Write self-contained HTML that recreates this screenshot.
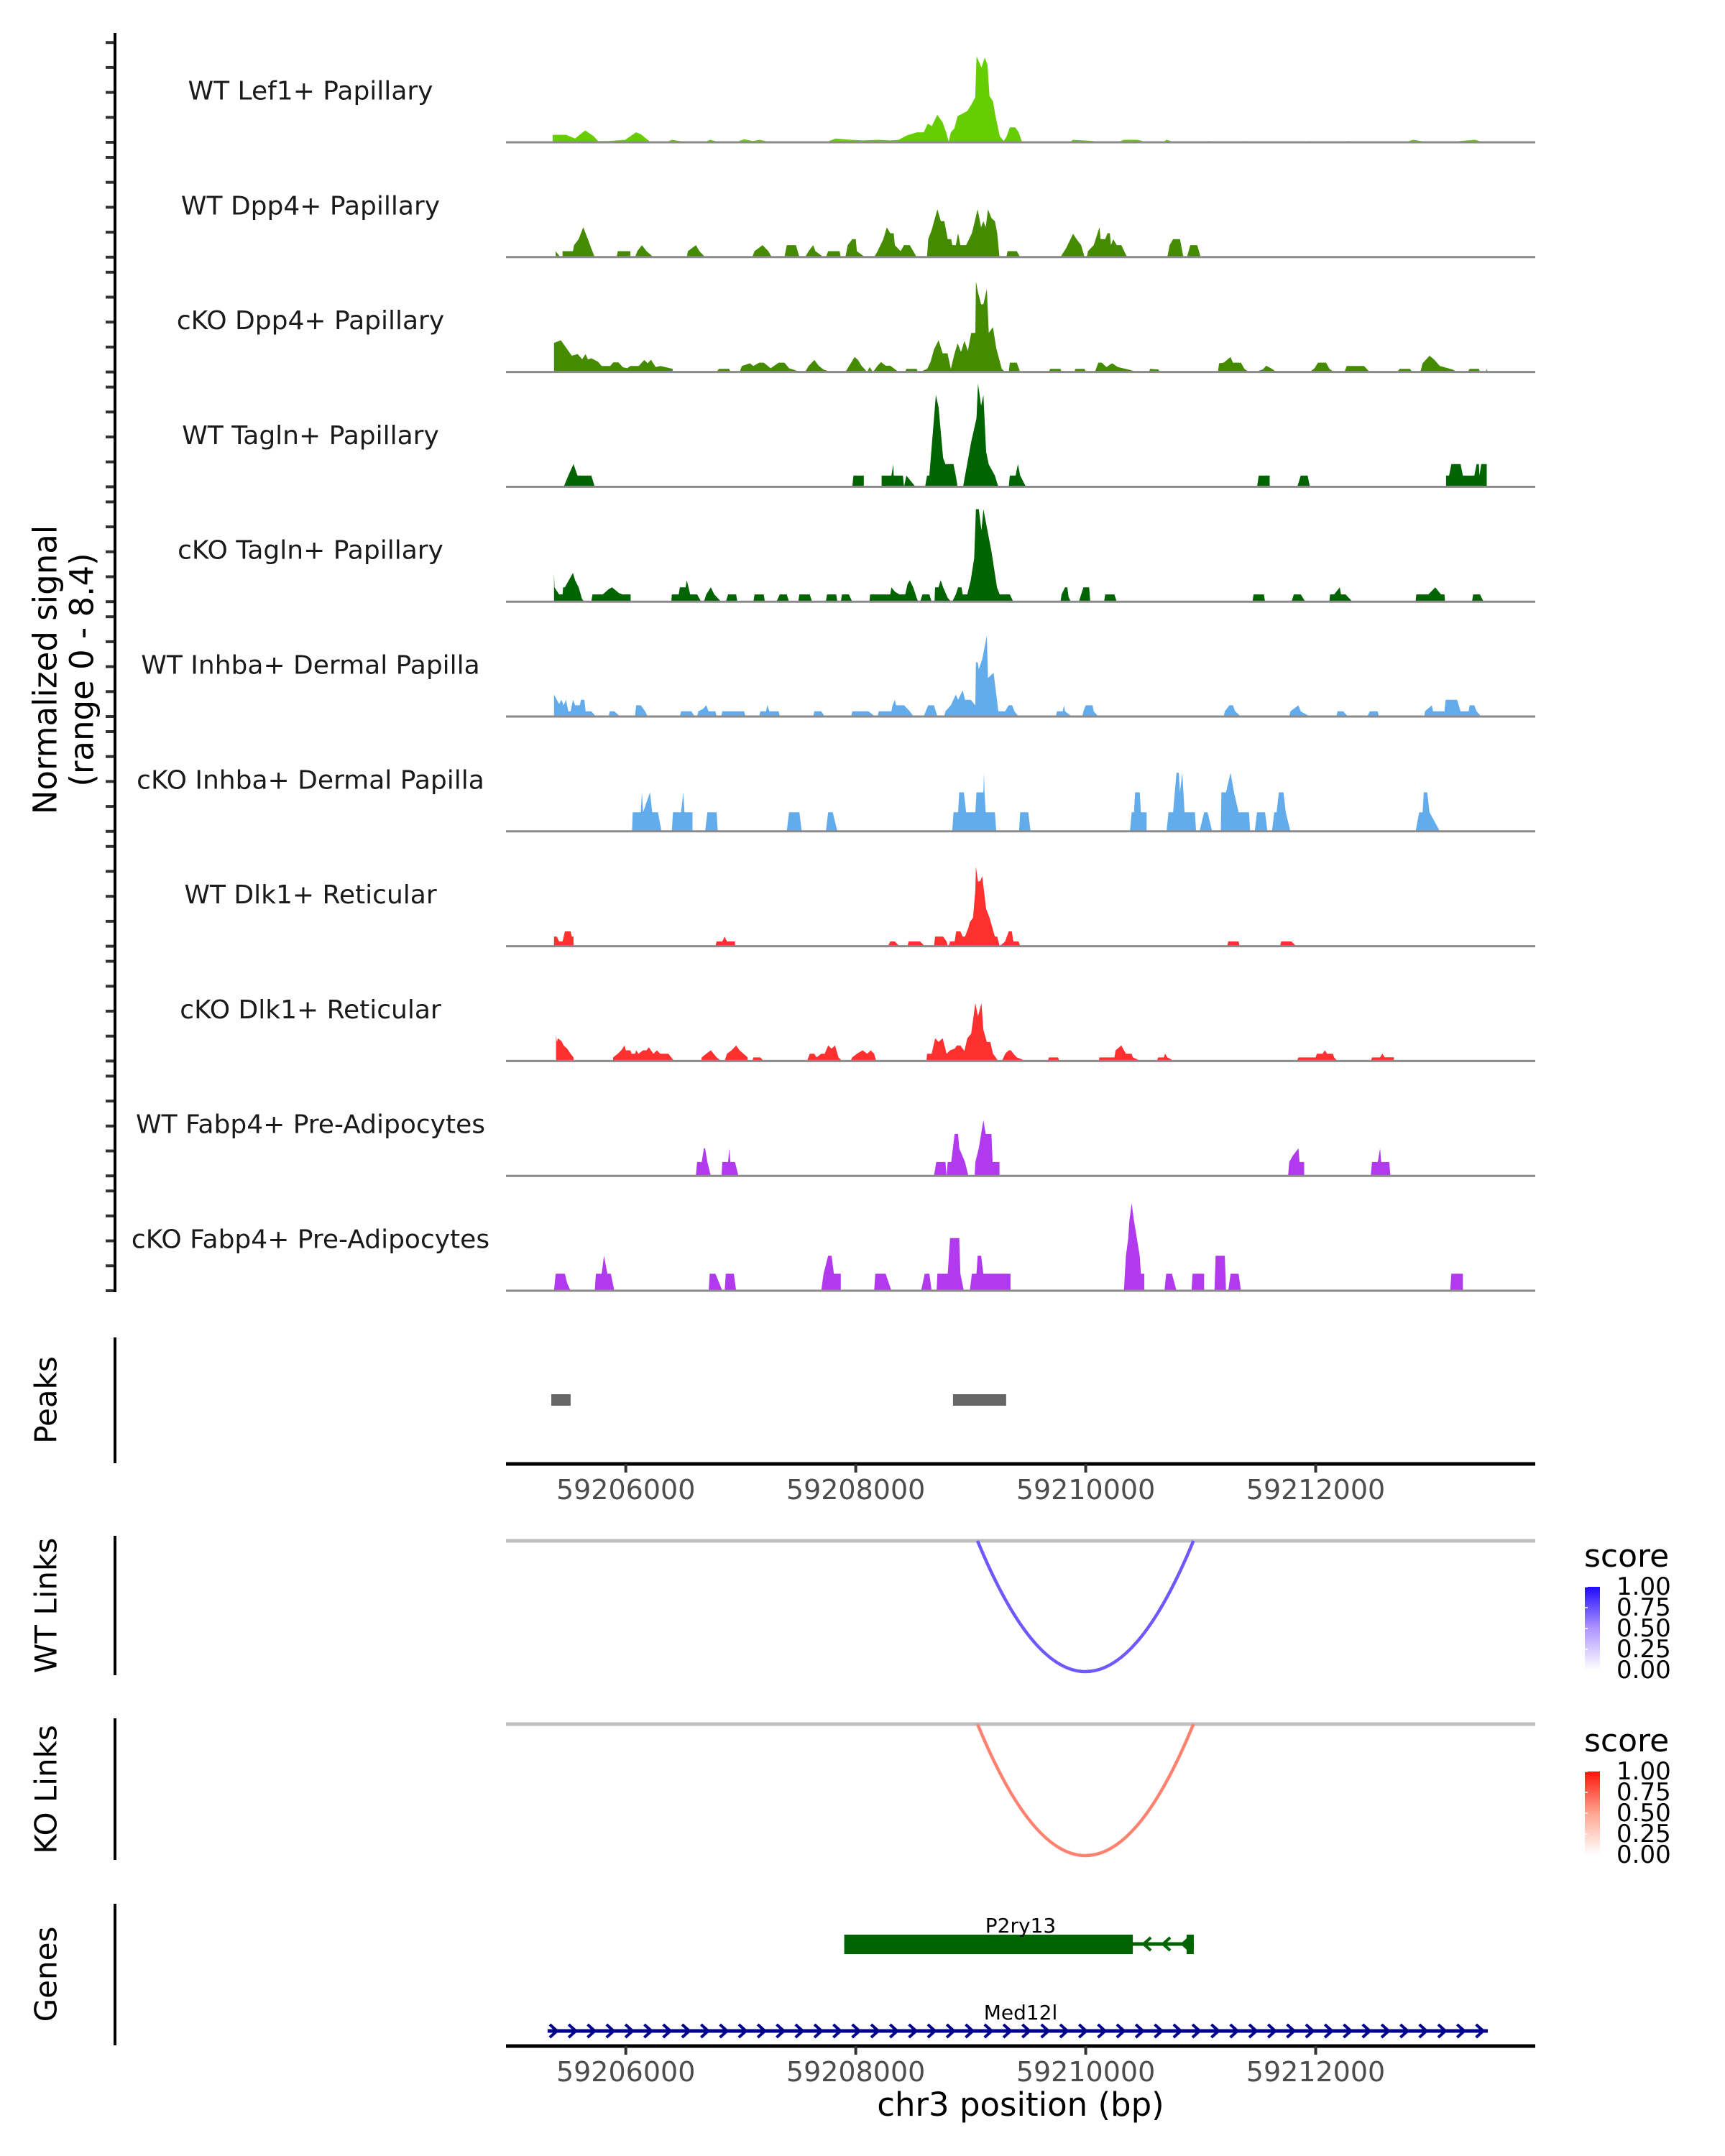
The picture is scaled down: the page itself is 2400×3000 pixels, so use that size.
<!DOCTYPE html>
<html><head><meta charset="utf-8">
<style>
html,body{margin:0;padding:0;background:#fff;}
svg{display:block;font-family:"DejaVu Sans","Liberation Sans",sans-serif;}
</style></head>
<body>
<svg id="chart" width="2400" height="3000" viewBox="0 0 2400 3000" xmlns="http://www.w3.org/2000/svg">
  <rect x="0" y="0" width="2400" height="3000" fill="#fff"/>
  <g id="tracks"></g>
  <g id="axes"></g>
  <g id="lower"></g>
</svg>
<script>
// ---- data (positions are bp offsets from 59205000, values are normalized signal) ----
const regionStart = 59205000;
const trackNames = ["WT Lef1+ Papillary","WT Dpp4+ Papillary","cKO Dpp4+ Papillary","WT Tagln+ Papillary","cKO Tagln+ Papillary","WT Inhba+ Dermal Papilla","cKO Inhba+ Dermal Papilla","WT Dlk1+ Reticular","cKO Dlk1+ Reticular","WT Fabp4+ Pre-Adipocytes","cKO Fabp4+ Pre-Adipocytes"];
const trackColors = ["#66cd00","#458b00","#458b00","#006400","#006400","#63acec","#63acec","#ff3030","#ff3030","#b23aee","#b23aee"];
const yTickValues = [0,2,4,6,8];
const xTickValues = [59206000,59208000,59210000,59212000];

const sigLef1WT = [[364,0],[364,0.6],[482,0.6],[558,0.3],[647,0.95],[718,0.5],[759,0.1],[848,0.1],[995,0.2],[1089,0.8],[1131,0.65],[1190,0.2],[1219,0],[1349,0],[1400,0.2],[1538,0],[1685,0],[1733,0.2],[1821,0],[1957,0],[2028,0.25],[2104,0.1],[2163,0.2],[2264,0],[2741,0],[2824,0.3],[2954,0.2],[3060,0.15],[3196,0.2],[3308,0.15],[3373,0.2],[3444,0.55],[3532,0.8],[3591,0.8],[3626,1.5],[3662,1.3],[3709,2.2],[3756,1.6],[3786,0.8],[3809,0.05],[3827,0.8],[3857,1.1],[3886,2.1],[3969,2.5],[4004,3.0],[4039,3.6],[4051,6.9],[4093,6.0],[4122,6.8],[4146,6.2],[4163,3.7],[4193,3.3],[4216,2.1],[4252,0.5],[4287,0.1],[4311,0.45],[4340,1.2],[4388,1.2],[4417,0.8],[4447,0],[4470,0.1],[4565,0],[4860,0],[4890,0.2],[5066,0.1],[5155,0],[5273,0],[5332,0.2],[5450,0.2],[5538,0],[5668,0],[5703,0.2],[5774,0],[6040,0],[6060,0.1],[6234,0],[6352,0],[6370,0.1],[6470,0],[6936,0],[6950,0.1],[7031,0],[7261,0],[7280,0.1],[7473,0],[7780,0],[7845,0.2],[7987,0],[8223,0],[8250,0.1],[8388,0.2],[8459,0]];
const sigDpp4WT = [[390,0],[390,0.48],[430,0],[450,0],[450,0.48],[540,0.48],[550,0.96],[590,1.44],[630,2.4],[670,1.44],[700,0.7],[730,0],[920,0],[930,0.48],[1040,0.48],[1040,0],[1080,0],[1100,0.48],[1140,0.96],[1180,0.48],[1240,0],[1530,0],[1540,0.48],[1610,0.96],[1640,0.48],[1690,0],[2100,0],[2120,0.48],[2190,0.96],[2240,0.48],[2270,0],[2380,0],[2400,0.96],[2480,0.96],[2510,0],[2560,0],[2590,0.48],[2630,0.96],[2650,0.48],[2720,0],[2740,0],[2760,0.48],[2860,0.48],[2870,0],[2910,0],[2930,0.96],[2970,1.44],[3000,1.44],[3010,0.48],[3080,0],[3160,0],[3190,0.48],[3240,1.44],[3270,2.4],[3300,1.92],[3330,1.92],[3340,0.96],[3390,0.48],[3420,0.96],[3470,0.96],[3500,0.48],[3530,0],[3620,0],[3630,1.44],[3660,2.17],[3710,3.84],[3740,2.88],[3770,2.88],[3800,1.44],[3830,1.44],[3840,0.96],[3870,0.96],[3890,1.92],[3910,0.96],[3960,0.96],[4010,1.92],[4060,3.84],[4090,2.4],[4110,2.88],[4130,2.4],[4150,3.84],[4180,3.13],[4210,2.88],[4230,1.92],[4250,0],[4310,0],[4320,0.48],[4400,0.48],[4430,0],[4780,0],[4830,0.73],[4890,1.88],[4920,1.44],[4960,0.96],[4990,0],[5010,0],[5020,0.48],[5070,0.96],[5120,2.4],[5130,1.44],[5170,1.44],[5190,1.92],[5210,1.92],[5220,0.96],[5240,1.44],[5270,0.96],[5310,0.96],[5360,0],[5710,0],[5730,0.96],[5760,1.44],[5820,1.44],[5850,0],[5880,0],[5910,0.96],[5970,0.96],[6000,0]];
const sigDpp4KO = [[376,0],[376,2.32],[435,2.55],[494,1.78],[530,1.3],[582,1.44],[620,1.02],[650,1.44],[671,1.0],[700,1.1],[759,0.82],[790,0.48],[865,0.48],[890,0.77],[936,0.77],[975,0.38],[1013,0.3],[1040,0.48],[1113,0.48],[1160,0.96],[1190,0.7],[1219,0.98],[1260,0.4],[1302,0.48],[1408,0.25],[1408,0],[1790,0],[1810,0.25],[1900,0.25],[1910,0],[1990,0],[2010,0.48],[2080,0.7],[2110,0.48],[2160,0.75],[2200,0.75],[2260,0.3],[2330,0.75],[2380,0.75],[2420,0.3],[2520,0],[2560,0],[2590,0.48],[2640,0.96],[2680,0.48],[2720,0.2],[2780,0],[2910,0],[2950,0.6],[2990,1.2],[3020,0.96],[3050,0.5],[3100,0],[3120,0.4],[3150,0],[3190,0.5],[3220,0.8],[3260,0.5],[3300,0.5],[3373,0],[3430,0],[3440,0.25],[3530,0.25],[3540,0],[3556,0],[3621,0.25],[3650,0.8],[3680,1.8],[3721,2.55],[3756,1.5],[3798,1.5],[3827,0.25],[3857,1.4],[3886,2.3],[3916,1.6],[3945,2.5],[3975,1.7],[4004,3.13],[4040,3.13],[4045,7.25],[4063,6.4],[4090,5.43],[4110,5.43],[4140,6.67],[4157,3.13],[4193,3.6],[4222,1.9],[4270,0.25],[4299,0],[4330,0],[4340,0.75],[4400,0.75],[4430,0],[4680,0],[4690,0.25],[4780,0.25],[4790,0],[4900,0],[4910,0.25],[4990,0.25],[5000,0],[5080,0],[5110,0.75],[5140,0.75],[5180,0.4],[5230,0.7],[5280,0.4],[5370,0.2],[5450,0],[5550,0],[5560,0.25],[5630,0.2],[5650,0],[6150,0],[6160,0.7],[6200,0.75],[6260,1.2],[6280,0.75],[6350,0.75],[6380,0.25],[6420,0],[6470,0],[6540,0.2],[6570,0.5],[6620,0.25],[6660,0],[6950,0],[6990,0.3],[7020,0.75],[7090,0.75],[7120,0.25],[7160,0],[7250,0],[7270,0.48],[7420,0.48],[7470,0],[7710,0],[7730,0.25],[7820,0.25],[7840,0],[7910,0],[7930,0.7],[7990,1.3],[8030,1.0],[8080,0.48],[8190,0.2],[8230,0],[8320,0],[8340,0.25],[8420,0.25],[8430,0],[8480,0],[8490,0.25],[8495,0]];
const sigTaglnWT = [[460,0],[500,0.9],[545,1.82],[580,0.9],[700,0.9],[730,0],[2970,0],[2980,0.9],[3070,0.9],[3070,0],[3225,0],[3225,0.9],[3310,0.9],[3326,1.8],[3330,0.9],[3410,0.9],[3420,0],[3440,0.9],[3520,0],[3603,0],[3620,0.9],[3640,0.9],[3697,7.37],[3720,6.4],[3760,2.3],[3780,1.82],[3850,1.82],[3870,0.9],[3886,0],[3933,0],[4004,3.6],[4050,5.5],[4063,8.29],[4090,6.5],[4110,7.37],[4134,2.8],[4157,1.8],[4210,0.9],[4240,0],[4330,0],[4340,0.9],[4390,0.9],[4410,1.82],[4430,0.9],[4480,0],[6490,0],[6505,0.9],[6600,0.9],[6600,0],[6840,0],[6870,0.9],[6930,0.9],[6950,0],[8134,0],[8134,0.9],[8160,0.9],[8180,1.82],[8260,1.82],[8280,0.9],[8380,0.9],[8400,1.82],[8420,1.82],[8425,0.9],[8440,1.82],[8488,1.82],[8488,0]];
const sigTaglnKO = [[376,0],[376,2.3],[380,1.15],[420,0.58],[450,0.58],[455,1.15],[470,1.15],[540,2.3],[560,1.7],[590,1.15],[620,0.2],[640,0],[700,0],[710,0.58],[800,0.58],[850,1.0],[880,1.15],[940,0.7],[970,0.58],[1042,0.58],[1042,0],[1396,0],[1400,0.58],[1460,0.58],[1470,1.15],[1520,1.15],[1530,1.73],[1560,0.58],[1620,0.58],[1656,0],[1680,0],[1700,0.58],[1740,1.15],[1770,0.58],[1830,0],[1870,0],[1890,0.58],[1960,0.58],[1970,0],[2110,0],[2120,0.58],[2200,0.58],[2210,0],[2310,0],[2340,0.58],[2400,0.58],[2420,0],[2500,0],[2510,0.58],[2600,0.58],[2620,0],[2740,0],[2750,0.58],[2830,0.58],[2840,0],[2870,0],[2880,0.58],[2940,0.58],[2970,0],[3119,0],[3125,0.58],[3300,0.58],[3310,1.15],[3340,0.8],[3380,0.58],[3430,0.58],[3450,1.4],[3470,1.73],[3500,1.15],[3530,0.3],[3544,0],[3560,0],[3580,0.58],[3640,0.58],[3660,0],[3685,0],[3690,1.15],[3720,1.15],[3738,1.73],[3760,1.15],[3800,0.3],[3830,0],[3839,0],[3870,0.58],[3890,1.15],[3920,1.15],[3930,0.58],[3970,0.58],[4000,1.73],[4030,3.5],[4045,7.42],[4070,7.42],[4093,5.7],[4110,7.42],[4181,4.0],[4228,1.15],[4252,0.58],[4340,0.58],[4370,0],[4780,0],[4790,0.58],[4820,1.15],[4840,1.15],[4850,0.4],[4870,0],[4940,0],[4960,0.58],[4980,1.15],[5030,1.15],[5040,0],[5160,0],[5170,0.58],[5250,0.58],[5270,0],[6450,0],[6460,0.58],[6550,0.58],[6560,0],[6790,0],[6810,0.58],[6870,0.58],[6910,0],[7119,0],[7125,0.58],[7160,0.58],[7210,1.15],[7220,0.58],[7260,0.58],[7320,0],[7869,0],[7875,0.58],[7980,0.58],[8040,1.15],[8090,0.58],[8120,0.58],[8125,0],[8360,0],[8370,0.58],[8430,0.58],[8460,0]];
const sigInhbaWT = [[376,0],[376,1.76],[420,1.0],[440,1.34],[460,0.9],[480,1.34],[500,0.42],[520,0.42],[540,1.34],[560,0.9],[600,0.9],[610,1.34],[640,1.34],[650,0.42],[700,0.42],[740,0],[850,0],[860,0.42],[900,0.42],[950,0],[1080,0],[1090,0.9],[1130,0.9],[1170,0.4],[1190,0],[1470,0],[1480,0.42],[1570,0.42],[1600,0],[1620,0],[1630,0.42],[1670,0.6],[1700,0.9],[1720,0.42],[1780,0.42],[1790,0],[1830,0],[1840,0.42],[2030,0.42],[2040,0],[2160,0],[2170,0.42],[2220,0.42],[2230,0.9],[2250,0.42],[2330,0.42],[2340,0],[2630,0],[2640,0.42],[2700,0.42],[2730,0],[2960,0],[2970,0.42],[3110,0.42],[3170,0],[3190,0],[3200,0.42],[3270,0.42],[3310,0.42],[3320,0.9],[3340,1.34],[3350,0.9],[3420,0.9],[3470,0.42],[3503,0],[3590,0],[3630,0.9],[3680,0.9],[3710,0],[3768,0],[3780,0.42],[3827,0.9],[3870,1.76],[3890,1.34],[3930,2.1],[3950,1.34],[4000,1.34],[4040,0.9],[4045,4.35],[4060,4.35],[4070,3.8],[4100,4.6],[4140,6.5],[4150,3.1],[4199,3.5],[4240,0.42],[4299,0.42],[4330,0.9],[4360,0.9],[4380,0.42],[4417,0],[4740,0],[4750,0.42],[4800,0.42],[4810,0.9],[4820,0.42],[4880,0],[4970,0],[4980,0.42],[5000,0.9],[5060,0.9],[5070,0.42],[5110,0],[6200,0],[6210,0.42],[6250,0.9],[6280,0.9],[6300,0.42],[6350,0],[6770,0],[6780,0.42],[6850,0.9],[6870,0.42],[6950,0],[7180,0],[7190,0.42],[7240,0.42],[7280,0],[7450,0],[7470,0.42],[7540,0.42],[7550,0],[7945,0],[7950,0.42],[8010,0.9],[8020,0.42],[8120,0.42],[8130,1.34],[8230,1.34],[8260,0.42],[8330,0.42],[8340,0.9],[8380,0.9],[8400,0.42],[8440,0]];
const sigInhbaKO = [[1054,0],[1060,1.53],[1130,1.53],[1140,3.13],[1150,1.53],[1210,3.13],[1230,1.53],[1280,1.53],[1310,0],[1400,0],[1410,1.53],[1480,1.53],[1500,3.13],[1510,1.53],[1580,1.53],[1580,0],[1690,0],[1710,1.53],[1790,1.53],[1800,0],[2400,0],[2420,1.53],[2510,1.53],[2530,0],[2740,0],[2760,1.53],[2800,1.53],[2840,0],[3839,0],[3850,1.53],[3890,1.53],[3900,3.13],[3940,3.13],[3960,1.53],[4040,1.53],[4050,3.13],[4110,3.13],[4115,4.7],[4120,3.13],[4130,1.53],[4210,1.53],[4222,0],[4420,0],[4430,1.53],[4500,1.53],[4520,0],[5385,0],[5400,1.53],[5420,1.53],[5430,3.13],[5470,3.13],[5480,1.53],[5530,1.53],[5530,0],[5703,0],[5720,1.53],[5760,1.53],[5790,4.7],[5810,4.7],[5820,3.13],[5840,4.7],[5860,1.53],[5950,1.53],[5960,0],[5990,0],[6030,1.53],[6060,1.53],[6100,0],[6175,0],[6180,3.13],[6220,3.13],[6260,4.7],[6290,3.13],[6330,1.53],[6420,1.53],[6430,0],[6470,0],[6490,1.53],[6560,1.53],[6580,0],[6620,0],[6640,1.53],[6660,1.53],[6680,3.13],[6720,3.13],[6740,1.53],[6780,0],[7869,0],[7900,1.53],[7930,1.53],[7940,3.13],[7970,3.13],[7990,1.53],[8080,0]];
const sigDlk1WT = [[376,0],[376,0.77],[400,0.77],[420,0.38],[450,0.38],[470,1.19],[520,1.19],[530,0.77],[545,0.77],[545,0],[1780,0],[1790,0.38],[1840,0.38],[1860,0.77],[1880,0.38],[1950,0.38],[1950,0],[3280,0],[3300,0.38],[3340,0.38],[3380,0],[3450,0],[3460,0.38],[3560,0.38],[3600,0],[3680,0],[3690,0.77],[3760,0.77],[3790,0.38],[3800,0],[3809,0],[3820,0.38],[3860,0.38],[3874,1.19],[3910,1.19],[3930,0.77],[3950,0.77],[3980,1.5],[3992,1.92],[4020,2.3],[4040,4.5],[4045,6.37],[4063,5.2],[4080,5.2],[4100,5.6],[4134,3.0],[4163,2.3],[4210,0.77],[4230,0.77],[4252,0],[4299,0.38],[4330,1.19],[4358,1.19],[4370,0.38],[4417,0.38],[4430,0],[6230,0],[6240,0.38],[6330,0.38],[6340,0],[6690,0],[6700,0.38],[6790,0.38],[6830,0]];
const sigDlk1KO = [[393,0],[393,2.1],[400,1.53],[410,1.82],[440,1.6],[460,1.25],[490,1.0],[520,0.58],[545,0.3],[545,0],[889,0],[890,0.29],[930,0.58],[960,0.86],[990,1.25],[1000,0.86],[1040,0.86],[1050,0.58],[1080,0.58],[1090,0.86],[1110,0.58],[1150,0.86],[1180,0.86],[1200,1.1],[1240,0.58],[1270,0.86],[1300,0.58],[1370,0.58],[1420,0],[1656,0],[1660,0.29],[1700,0.58],[1740,0.86],[1790,0.3],[1830,0],[1860,0],[1880,0.58],[1920,0.86],[1960,1.25],[1990,0.86],[2060,0.3],[2060,0],[2100,0],[2110,0.29],[2170,0.29],[2200,0],[2576,0],[2600,0.58],[2640,0.58],[2660,0.3],[2700,0.58],[2730,0.58],[2760,1.25],[2790,1.0],[2820,1.25],[2850,0.29],[2883,0],[2954,0],[2970,0.3],[3010,0.58],[3060,0.86],[3100,0.58],[3130,0.86],[3160,0.58],[3178,0],[3615,0],[3620,0.58],[3660,0.58],[3691,1.82],[3720,1.53],[3756,1.82],[3790,0.58],[3820,0.86],[3860,1.0],[3880,1.25],[3910,1.25],[3945,0.8],[3970,1.82],[4004,2.2],[4040,4.64],[4063,3.6],[4093,4.64],[4110,2.5],[4140,1.53],[4170,1.53],[4193,0.6],[4240,0],[4270,0],[4300,0.58],[4330,0.86],[4350,0.86],[4370,0.6],[4400,0.3],[4480,0],[4670,0],[4680,0.29],[4760,0.29],[4770,0],[5113,0],[5120,0.29],[5250,0.29],[5260,0.86],[5310,1.25],[5350,0.58],[5400,0.58],[5410,0.3],[5480,0],[5620,0],[5630,0.29],[5680,0.29],[5690,0.6],[5710,0.3],[5770,0],[6836,0],[6850,0.29],[7000,0.29],[7010,0.58],[7060,0.58],[7080,0.86],[7100,0.58],[7150,0.58],[7160,0.3],[7190,0],[7480,0],[7490,0.29],[7560,0.29],[7580,0.6],[7600,0.3],[7680,0.3],[7680,0]];
const sigFabp4WT = [[1609,0],[1620,1.11],[1660,1.11],[1680,2.22],[1690,2.22],[1710,1.11],[1740,0],[1833,0],[1840,1.11],[1890,1.11],[1900,2.22],[1910,1.11],[1950,1.11],[1980,0],[3680,0],[3700,1.11],[3780,1.11],[3790,0],[3800,1.11],[3830,1.11],[3860,3.36],[3890,3.36],[3900,2.22],[3950,1.11],[3980,0],[4034,0],[4040,1.11],[4070,2.22],[4110,4.47],[4130,3.36],[4180,3.36],[4190,1.11],[4250,1.11],[4250,0],[6760,0],[6770,1.11],[6800,1.6],[6850,2.22],[6860,1.11],[6900,1.11],[6900,0],[7479,0],[7490,1.11],[7540,1.11],[7560,2.22],[7570,1.11],[7640,1.11],[7650,0]];
const sigFabp4KO = [[376,0],[390,1.36],[470,1.36],[490,0.6],[520,0],[730,0],[740,1.36],[790,1.36],[810,2.8],[840,1.36],[870,1.36],[900,0],[1721,0],[1730,1.36],[1780,1.36],[1840,0],[1860,0],[1870,1.36],[1940,1.36],[1960,0],[2700,0],[2720,1.36],[2760,2.8],[2790,2.8],[2810,1.36],[2870,1.36],[2870,0],[3160,0],[3170,1.36],[3260,1.36],[3310,0],[3568,0],[3600,1.36],[3640,1.36],[3660,0],[3703,0],[3710,1.36],[3800,1.36],[3820,4.22],[3900,4.22],[3910,1.36],[3940,0],[3992,0],[4010,1.36],[4050,1.36],[4060,2.8],[4090,2.8],[4110,1.36],[4346,1.36],[4346,0],[5332,0],[5350,2.8],[5370,4.2],[5380,5.62],[5400,7.02],[5420,5.62],[5470,2.8],[5480,1.36],[5510,1.36],[5510,0],[5685,0],[5700,1.36],[5750,1.36],[5790,0],[5920,0],[5930,1.36],[6030,1.36],[6030,0],[6120,0],[6130,2.8],[6210,2.8],[6220,0],[6240,0],[6260,1.36],[6330,1.36],[6350,0],[8170,0],[8180,1.36],[8280,1.36],[8280,0]];
const trackSignals = [sigLef1WT,sigDpp4WT,sigDpp4KO,sigTaglnWT,sigTaglnKO,sigInhbaWT,sigInhbaKO,sigDlk1WT,sigDlk1KO,sigFabp4WT,sigFabp4KO];

const peakStarts = [59205352,59208846];
const peakEnds = [59205520,59209308];
const linkStarts = [59209059];
const linkEnds = [59210937];
const wtLinkScores = [0.72];
const koLinkScores = [0.62];
const geneNames = ["P2ry13","Med12l"];
const geneStarts = [59207900,59205320];
const geneEnds = [59210940,59213497];
const geneThickEnd = [59210410,null];
const geneStrands = ["-","+"];
const legendTicks = ["1.00","0.75","0.50","0.25","0.00"];

// ---- scales ----
const SVGNS = "http://www.w3.org/2000/svg";
function xScale(bp){ return 710.7 + 0.15997*(bp - regionStart); }
const trackBase0 = 198, trackStep = 159.8, unitPx = 17.35;
function trackBase(i){ return trackBase0 + i*trackStep; }
function yScale(i,v){ return trackBase(i) - v*unitPx; }
const plotL = 704, plotR = 2136;

function mk(tag, attrs, parent){
  const e = document.createElementNS(SVGNS, tag);
  for (const k in attrs) e.setAttribute(k, attrs[k]);
  parent.appendChild(e);
  return e;
}
const gT = document.getElementById('tracks');
const gA = document.getElementById('axes');
const gL = document.getElementById('lower');
const FONT = '"DejaVu Sans","Liberation Sans",sans-serif';

// ---- signal tracks ----
trackSignals.forEach((sig, i) => {
  const b = trackBase(i);
  let d = "M" + xScale(regionStart + sig[0][0]).toFixed(1) + "," + b;
  sig.forEach(p => { d += "L" + xScale(regionStart + p[0]).toFixed(1) + "," + yScale(i, p[1]).toFixed(1); });
  d += "L" + xScale(regionStart + sig[sig.length-1][0]).toFixed(1) + "," + b + "Z";
  const area = mk('path', {d: d, fill: trackColors[i]}, gT);
  
  
  const bl = mk('line', {x1: plotL, x2: plotR, y1: b, y2: b, stroke: '#8a8a8a', 'stroke-width': 3}, gT);
  
  
  const lab = mk('text', {x: 432, y: b - 71, 'text-anchor': 'middle', 'dominant-baseline': 'central', 'font-size': 36, fill: '#1a1a1a', 'font-family': FONT}, gT);
  lab.textContent = trackNames[i];
  
  
  yTickValues.forEach(t => {
    const tk = mk('line', {x1: 147, x2: 160, y1: yScale(i,t), y2: yScale(i,t), stroke: '#333', 'stroke-width': 4}, gA);
    
    
  });
});

// vertical axis lines per panel
const axisSpans = [[46,1798,'signal-y-axis'],[1861,2036,'peaks-y-axis'],[2137,2331,'wt-links-y-axis'],[2391,2588,'ko-links-y-axis'],[2649,2846,'genes-y-axis']];
axisSpans.forEach(s => {
  const l = mk('line', {x1: 160, x2: 160, y1: s[0], y2: s[1], stroke: '#000', 'stroke-width': 4}, gA);
  
  
});

// y titles
function rotText(txt, x, y, size, name){
  const t = mk('text', {x: x, y: y, transform: 'rotate(-90 ' + x + ' ' + y + ')', 'text-anchor': 'middle', 'dominant-baseline': 'central', 'font-size': size, fill: '#000', 'font-family': FONT}, gA);
  t.textContent = txt;
  
  
}
rotText('Normalized signal', 63, 932, 45, 'y-axis-title');
rotText('(range 0 - 8.4)', 114, 932, 45, 'y-axis-subtitle');
rotText('Peaks', 64, 1948, 42, 'peaks-panel-title');
rotText('WT Links', 64, 2234, 42, 'wt-links-panel-title');
rotText('KO Links', 64, 2490, 42, 'ko-links-panel-title');
rotText('Genes', 64, 2747, 42, 'genes-panel-title');

// ---- peaks ----
peakStarts.forEach((s, i) => {
  const r = mk('rect', {x: xScale(s), y: 1940, width: xScale(peakEnds[i]) - xScale(s), height: 16, fill: '#666666'}, gL);
  
  
});

// ---- x axes ----
function xAxis(y, name){
  const l = mk('line', {x1: plotL, x2: plotR, y1: y, y2: y, stroke: '#000', 'stroke-width': 5}, gA);
  
  
  xTickValues.forEach(v => {
    const tk = mk('line', {x1: xScale(v), x2: xScale(v), y1: y, y2: y + 12, stroke: '#333', 'stroke-width': 4}, gA);
    
    
    const t = mk('text', {x: xScale(v), y: y + 49, 'text-anchor': 'middle', 'font-size': 38, fill: '#4d4d4d', 'font-family': FONT}, gA);
    t.textContent = String(v);
    
    
  });
}
xAxis(2037, 'peaks-x-axis');
xAxis(2847, 'genes-x-axis');
const xt = mk('text', {x: 1420, y: 2944, 'text-anchor': 'middle', 'font-size': 45, fill: '#000', 'font-family': FONT}, gA);
xt.textContent = 'chr3 position (bp)';



// ---- links ----
function rampColor(ramp, s){
  // ramp: [low, mid, high] rgb triplets
  const seg = s < 0.5 ? 0 : 1, t = s < 0.5 ? s/0.5 : (s-0.5)/0.5;
  const a = ramp[seg], b = ramp[seg+1];
  return 'rgb(' + a.map((c,k) => Math.round(c + (b[k]-c)*t)).join(',') + ')';
}
function linkPanel(top, depth, scores, ramp, gradId, legTop, prefix){
  const gl = mk('line', {x1: plotL, x2: plotR, y1: top, y2: top, stroke: '#bebebe', 'stroke-width': 5}, gL);
  
  
  linkStarts.forEach((s, i) => {
    const x1 = xScale(s), x2 = xScale(linkEnds[i]);
    const d = 'M' + x1 + ',' + top + ' Q' + ((x1+x2)/2) + ',' + (top + 2*depth) + ' ' + x2 + ',' + top;
    const p = mk('path', {d: d, fill: 'none', stroke: rampColor(ramp, scores[i]), 'stroke-width': 4.5}, gL);
    
    
  });
  const defs = mk('defs', {}, gL);
  const lg = mk('linearGradient', {id: gradId, x1: 0, y1: 1, x2: 0, y2: 0}, defs);
  mk('stop', {offset: 0, 'stop-color': 'rgb(' + ramp[0].join(',') + ')'}, lg);
  mk('stop', {offset: 0.5, 'stop-color': 'rgb(' + ramp[1].join(',') + ')'}, lg);
  mk('stop', {offset: 1, 'stop-color': 'rgb(' + ramp[2].join(',') + ')'}, lg);
  const st = mk('text', {x: 2204, y: legTop, 'font-size': 44, fill: '#000', 'font-family': FONT}, gL);
  st.textContent = 'score';
  
  
  const barTop = legTop + 28, barH = 116;
  const bar = mk('rect', {x: 2205, y: barTop, width: 21, height: barH, fill: 'url(#' + gradId + ')'}, gL);
  
  
  legendTicks.forEach((t, k) => {
    const yy = barTop + k*barH/(legendTicks.length-1);
    const tm = mk('line', {x1: 2205, x2: 2209, y1: yy, y2: yy, stroke: '#fff', 'stroke-width': 1.5}, gL);
    
    
    const tx = mk('text', {x: 2249, y: yy, 'dominant-baseline': 'central', 'font-size': 34, fill: '#000', 'font-family': FONT}, gL);
    tx.textContent = t;
    
    
  });
}
linkPanel(2144, 182, wtLinkScores, [[255,255,255],[175,150,255],[30,10,255]], 'gradWT', 2180, 'wt');
linkPanel(2399, 183, koLinkScores, [[255,255,255],[255,165,145],[255,20,10]], 'gradKO', 2437, 'ko');

// ---- genes ----
const geneColors = ['#006400', '#00008b'];
const geneY = [2705, 2826];
geneNames.forEach((g, i) => {
  const x1 = xScale(geneStarts[i]), x2 = xScale(geneEnds[i]), y = geneY[i], c = geneColors[i];
  const ln = mk('line', {x1: x1, x2: x2, y1: y, y2: y, stroke: c, 'stroke-width': 5}, gL);
  
  
  let arrowFrom = x1, arrowTo = x2;
  if (geneThickEnd[i] !== null) {
    const xe = xScale(geneThickEnd[i]);
    const r = mk('rect', {x: x1, y: y - 13, width: xe - x1, height: 27, fill: c}, gL);
    
    
    const cap = mk('rect', {x: x2 - 10, y: y - 13, width: 10, height: 27, fill: c}, gL);
    
    
    arrowFrom = xe + 12; arrowTo = x2 - 8;
  }
  const step = geneStrands[i] === '-' ? 27 : 26.3;
  for (let ax = arrowFrom + 8; ax <= arrowTo; ax += step) {
    const dir = geneStrands[i] === '+' ? 1 : -1;
    const d = 'M' + (ax - 5*dir) + ',' + (y - 9) + ' L' + (ax + 5*dir) + ',' + y + ' L' + (ax - 5*dir) + ',' + (y + 9);
    const a = mk('path', {d: d, fill: 'none', stroke: c, 'stroke-width': 4}, gL);
    
    
  }
  const t = mk('text', {x: 1420, y: y - 16, 'text-anchor': 'middle', 'font-size': 28, fill: '#000', 'font-family': FONT}, gL);
  t.textContent = g;
  
  
});
</script>
</body></html>
